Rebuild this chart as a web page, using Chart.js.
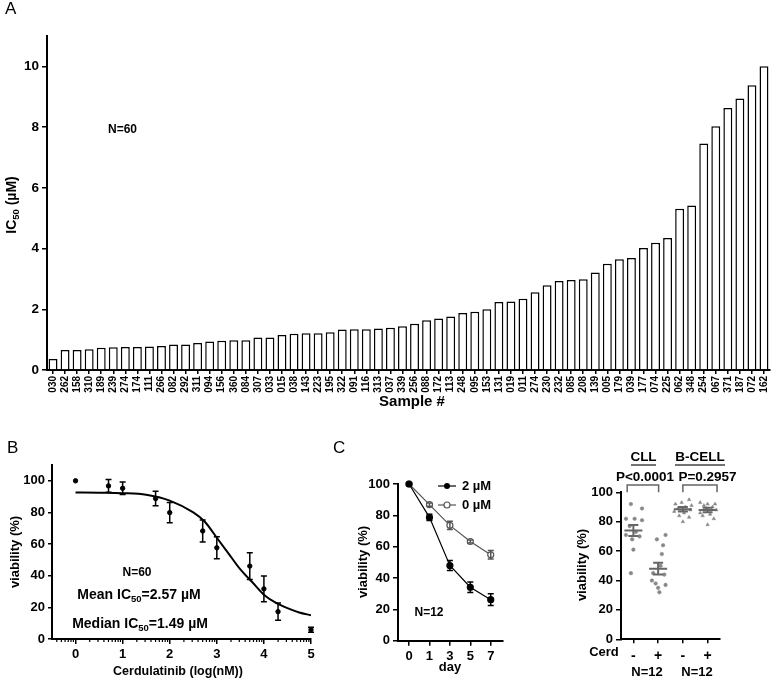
<!DOCTYPE html>
<html>
<head>
<meta charset="utf-8">
<script src="https://cdn.jsdelivr.net/npm/chart.js@4.4.1/dist/chart.umd.min.js"></script>
<style>
  body { margin: 0; background: #fff; width: 778px; height: 678px; position: relative; overflow: hidden; }
  canvas { position: absolute; }
</style>
</head>
<body>
<canvas id="cA" width="778" height="412" style="left:0px;top:0px"></canvas>
<canvas id="cB" width="330" height="238" style="left:0px;top:440px"></canvas>
<canvas id="cC1" width="210" height="238" style="left:330px;top:440px"></canvas>
<canvas id="cC2" width="238" height="238" style="left:540px;top:440px"></canvas>
<script>
// Panel A - IC50 per sample
const sampleIds = ['030','262','158','310','189','239','274','174','111','266','082','292','311','094','156','360','084','307','033','015',
  '038','143','223','195','322','091','116','313','037','339','256','088','172','113','248','095','153','131','019','011',
  '274','230','232','085','208','139','005','179','039','177','074','225','062','348','254','067','371','187','072','162'];
const ic50 = [0.36,0.66,0.66,0.68,0.73,0.75,0.76,0.76,0.77,0.79,0.84,0.84,0.89,0.94,0.96,0.98,0.98,1.07,1.07,1.15,
  1.19,1.21,1.21,1.24,1.33,1.34,1.34,1.37,1.39,1.44,1.52,1.64,1.70,1.76,1.88,1.92,2.00,2.24,2.26,2.35,
  2.56,2.79,2.93,2.96,2.99,3.21,3.50,3.65,3.69,4.02,4.19,4.35,5.31,5.42,7.46,8.03,8.63,8.94,9.38,10.0];
const icTicks = [0, 2, 4, 6, 8, 10];

// Panel B - dose response
const doseLog = [0, 0.7, 1, 1.7, 2, 2.7, 3, 3.7, 4, 4.3, 5];
const doseViab = [100, 96.8, 95.3, 88.8, 79.9, 68.3, 57.7, 46.1, 31.7, 17.3, 5.9];
const doseErr = [0, 4, 4, 4.6, 6.4, 7, 7, 8.5, 8.2, 5.5, 1.6];
const fitLog = [0, 0.5, 1, 1.5, 2, 2.5, 2.75, 3, 3.25, 3.5, 3.75, 4, 4.25, 4.5, 4.75, 5];
const fitViab = [92.6, 92.5, 92.2, 91.2, 87.5, 80, 74, 64, 54, 44, 36, 28, 23, 19.5, 16.8, 15];

// Panel C - time course
const days = ['0', '1', '3', '5', '7'];
const viab2uM = [100, 78.7, 48.0, 34.1, 26.2];
const err2uM = [0, 2, 3.2, 3.4, 3.7];
const viab0uM = [100, 86.8, 73.6, 63.3, 54.8];
const err0uM = [0, 1, 2.7, 1, 2.7];

// Panel C - CLL vs B-cell
const cerdLabels = ['-', '+', '-', '+'];
const cllMinus = [92, 89, 82, 82, 81, 77, 73, 71, 70, 68, 61, 45];
const cllMinusX = [-0.1, 0.35, -0.3, 0.05, 0.35, -0.15, 0.1, -0.3, 0.25, -0.05, 0, -0.1];
const cllPlus = [71, 68, 64, 58, 50, 45, 44, 40, 38, 37, 35, 32];
const cllPlusX = [0.3, -0.05, 0.2, 0.15, 0.1, -0.2, 0.25, -0.25, -0.1, 0.3, 0, 0.05];
const bMinus = [95, 93, 92, 91, 90, 89, 88, 87, 86, 84, 83, 80];
const bMinusX = [0.25, -0.05, -0.3, 0.35, 0.1, -0.2, 0.3, -0.35, 0.05, -0.15, 0.25, 0];
const bPlus = [93, 92, 92, 91, 90, 89, 88, 86, 85, 84, 82, 78];
const bPlusX = [-0.3, 0, 0.3, -0.15, 0.2, -0.05, 0.35, -0.3, 0.1, -0.2, 0.25, 0];
const groupMean = [74, 48, 88.5, 88];
const groupSem = [3.7, 4, 1.5, 1.5];

const F = '"Liberation Sans", Arial, sans-serif';
Chart.defaults.font.family = F;
Chart.defaults.color = '#000';
function bold(n) { return 'bold ' + n + 'px ' + F; }

function txt(ctx, s, x, y, font, align, rot) {
  ctx.save();
  ctx.translate(x, y);
  if (rot) ctx.rotate(rot);
  ctx.font = font;
  ctx.fillStyle = '#000';
  ctx.textAlign = align || 'center';
  ctx.textBaseline = 'middle';
  ctx.fillText(s, 0, 0);
  ctx.restore();
}

// text with subscript parts: [[text, font, dy]]
function subText(ctx, parts, x, y, rot) {
  ctx.save();
  ctx.translate(x, y);
  if (rot) ctx.rotate(rot);
  let w = 0;
  parts.forEach(p => { ctx.font = p[1]; w += ctx.measureText(p[0]).width; });
  let cx = -w / 2;
  ctx.fillStyle = '#000';
  ctx.textAlign = 'left';
  ctx.textBaseline = 'middle';
  parts.forEach(p => { ctx.font = p[1]; ctx.fillText(p[0], cx, p[2] || 0); cx += ctx.measureText(p[0]).width; });
  ctx.restore();
}

function drawErr(chart, dsIndex, errs, color, cap) {
  const ctx = chart.ctx, xs = chart.scales.x, ys = chart.scales.y;
  const data = chart.data.datasets[dsIndex].data;
  ctx.save();
  ctx.strokeStyle = color;
  ctx.lineWidth = 1.5;
  data.forEach((p, i) => {
    const e = errs[i];
    if (!e) return;
    const px = xs.getPixelForValue(p.x);
    const top = ys.getPixelForValue(p.y + e), bot = ys.getPixelForValue(p.y - e);
    ctx.beginPath();
    ctx.moveTo(px, top); ctx.lineTo(px, bot);
    ctx.moveTo(px - cap, top); ctx.lineTo(px + cap, top);
    ctx.moveTo(px - cap, bot); ctx.lineTo(px + cap, bot);
    ctx.stroke();
  });
  ctx.restore();
}

function axisOpts(size, tickLen) {
  return {
    border: { color: '#000', width: 2 },
    grid: { drawOnChartArea: false, drawTicks: true, tickLength: tickLen, color: '#000', lineWidth: 1.5 },
    ticks: { color: '#000', font: { size: size, weight: 'bold' }, padding: 3 }
  };
}

const base = {
  responsive: false,
  animation: false,
  events: [],
  plugins: { legend: { display: false }, tooltip: { enabled: false } }
};

// ---------- Panel A ----------
const ax = axisOpts(10, 4);
const ay = axisOpts(13.5, 5);
new Chart(document.getElementById('cA'), {
  type: 'bar',
  data: {
    labels: sampleIds,
    datasets: [{ data: ic50, backgroundColor: '#fff', borderColor: '#000', borderWidth: 1.5, barPercentage: 0.74, categoryPercentage: 1 }]
  },
  options: {
    ...base,
    layout: { padding: { left: 0, top: 36, right: 2, bottom: 0 } },
    scales: {
      x: {
        ...ax,
        grid: { ...ax.grid, offset: false },
        ticks: { ...ax.ticks, autoSkip: false, minRotation: 90, maxRotation: 90, padding: 2 },
        afterFit: s => { s.height = 42; }
      },
      y: {
        ...ay,
        min: 0, max: 11,
        afterBuildTicks: s => { s.ticks = icTicks.map(v => ({ value: v })); },
        afterFit: s => { s.width = 47; }
      }
    }
  },
  plugins: [{
    id: 'textA',
    afterDraw(chart) {
      const ctx = chart.ctx;
      txt(ctx, 'A', 5, 9, '17px ' + F, 'left');
      txt(ctx, 'N=60', 108, 130, bold(12), 'left');
      subText(ctx, [['IC', bold(14)], ['50', bold(9.5), 4], [' (\u00b5M)', bold(14)]], 12, 205, -Math.PI / 2);
      txt(ctx, 'Sample #', 412, 402, bold(15));
    }
  }]
});

// ---------- Panel B ----------
const bx = axisOpts(13, 5);
const by = axisOpts(13, 4);
new Chart(document.getElementById('cB'), {
  type: 'scatter',
  data: {
    datasets: [
      {
        data: fitLog.map((x, i) => ({ x: x, y: fitViab[i] })),
        showLine: true, borderColor: '#000', borderWidth: 2, pointRadius: 0,
        cubicInterpolationMode: 'monotone'
      },
      {
        data: doseLog.map((x, i) => ({ x: x, y: doseViab[i] })),
        pointRadius: 2.2, backgroundColor: '#000', borderColor: '#000', clip: false
      }
    ]
  },
  options: {
    ...base,
    layout: { padding: { left: 0, top: 25, right: 19, bottom: 0 } },
    scales: {
      x: {
        ...bx, type: 'linear', min: -0.5, max: 5,
        afterBuildTicks: s => { s.ticks = [0, 1, 2, 3, 4, 5].map(v => ({ value: v })); },
        afterFit: s => { s.height = 39; }
      },
      y: {
        ...by, min: 0, max: 110,
        afterBuildTicks: s => { s.ticks = [0, 20, 40, 60, 80, 100].map(v => ({ value: v })); },
        afterFit: s => { s.width = 52; }
      }
    }
  },
  plugins: [{
    id: 'textB',
    afterDatasetsDraw(chart) {
      drawErr(chart, 1, doseErr, '#000', 3);
    },
    afterDraw(chart) {
      const ctx = chart.ctx, xs = chart.scales.x, y0 = chart.chartArea.bottom;
      // log minor ticks
      ctx.save();
      ctx.strokeStyle = '#000';
      ctx.lineWidth = 1.2;
      for (let k = -1; k < 5; k++) {
        for (let m = 2; m <= 9; m++) {
          const v = k + Math.log10(m);
          if (v < -0.5 || v > 5) continue;
          const px = xs.getPixelForValue(v);
          ctx.beginPath(); ctx.moveTo(px, y0); ctx.lineTo(px, y0 + 3); ctx.stroke();
        }
      }
      ctx.restore();
      txt(ctx, 'B', 7, 8, '17px ' + F, 'left');
      txt(ctx, 'viability (%)', 15, 112, bold(13), 'center', -Math.PI / 2);
      txt(ctx, 'Cerdulatinib (log(nM))', 178, 232, bold(12.5));
      txt(ctx, 'N=60', 137, 133, bold(12));
      subText(ctx, [['Mean IC', bold(14)], ['50', bold(9.5), 4], ['=2.57 \u00b5M', bold(14)]], 139, 155);
      subText(ctx, [['Median IC', bold(14)], ['50', bold(9.5), 4], ['=1.49 \u00b5M', bold(14)]], 140, 184);
    }
  }]
});

// ---------- Panel C (time course) ----------
const cx1 = axisOpts(13, 5);
const cy1 = axisOpts(13, 5);
new Chart(document.getElementById('cC1'), {
  type: 'scatter',
  data: {
    datasets: [
      {
        data: viab2uM.map((v, i) => ({ x: i, y: v })),
        showLine: true, borderColor: '#000', borderWidth: 1.2,
        pointRadius: 3, pointBackgroundColor: '#000', pointBorderColor: '#000', clip: false
      },
      {
        data: viab0uM.map((v, i) => ({ x: i, y: v })),
        showLine: true, borderColor: '#555', borderWidth: 1.2,
        pointRadius: 3, pointBackgroundColor: '#fff', pointBorderColor: '#555', pointBorderWidth: 1.2, clip: false
      }
    ]
  },
  options: {
    ...base,
    layout: { padding: { left: 0, top: 44, right: 37, bottom: 0 } },
    scales: {
      x: {
        ...cx1, type: 'linear', min: -0.54, max: 4.6,
        afterBuildTicks: s => { s.ticks = days.map((d, i) => ({ value: i })); },
        ticks: { ...cx1.ticks, callback: v => days[v] },
        afterFit: s => { s.height = 37.3; }
      },
      y: {
        ...cy1, min: 0, max: 100,
        afterBuildTicks: s => { s.ticks = [0, 20, 40, 60, 80, 100].map(v => ({ value: v })); },
        afterFit: s => { s.width = 68; }
      }
    }
  },
  plugins: [{
    id: 'textC1',
    afterDatasetsDraw(chart) {
      drawErr(chart, 0, err2uM, '#000', 3);
      drawErr(chart, 1, err0uM, '#555', 3);
    },
    afterDraw(chart) {
      const ctx = chart.ctx;
      txt(ctx, 'C', 3, 8, '17px ' + F, 'left');
      txt(ctx, 'viability (%)', 33, 122, bold(13), 'center', -Math.PI / 2);
      txt(ctx, 'N=12', 99, 173, bold(12));
      txt(ctx, 'day', 120, 227, bold(13));
      // legend
      ctx.save();
      ctx.lineWidth = 1.2;
      ctx.strokeStyle = '#000';
      ctx.beginPath(); ctx.moveTo(108, 46); ctx.lineTo(126, 46); ctx.stroke();
      ctx.fillStyle = '#000';
      ctx.beginPath(); ctx.arc(117, 46, 3, 0, Math.PI * 2); ctx.fill();
      ctx.strokeStyle = '#555';
      ctx.beginPath(); ctx.moveTo(108, 65); ctx.lineTo(126, 65); ctx.stroke();
      ctx.fillStyle = '#fff';
      ctx.beginPath(); ctx.arc(117, 65, 3, 0, Math.PI * 2); ctx.fill(); ctx.stroke();
      ctx.restore();
      txt(ctx, '2 \u00b5M', 132, 46, bold(13), 'left');
      txt(ctx, '0 \u00b5M', 132, 65, bold(13), 'left');
    }
  }]
});

// ---------- Panel C (CLL vs B-cell) ----------
const cx2 = axisOpts(14, 4);
const cy2 = axisOpts(13, 5);
const groupVals = [cllMinus, cllPlus, bMinus, bPlus];
const groupX = [cllMinusX, cllPlusX, bMinusX, bPlusX];
new Chart(document.getElementById('cC2'), {
  type: 'scatter',
  data: {
    datasets: groupVals.map((vals, g) => ({
      data: vals.map((v, i) => ({ x: g + groupX[g][i], y: v })),
      pointStyle: g < 2 ? 'circle' : 'triangle',
      pointRadius: g < 2 ? 1.8 : 2,
      pointBackgroundColor: '#888', pointBorderColor: '#888', pointBorderWidth: 0.5
    }))
  },
  options: {
    ...base,
    layout: { padding: { left: 0, top: 52.3, right: 58, bottom: 0 } },
    scales: {
      x: {
        ...cx2, type: 'linear', min: -0.5, max: 3.5,
        afterBuildTicks: s => { s.ticks = cerdLabels.map((d, i) => ({ value: i })); },
        ticks: { ...cx2.ticks, callback: v => cerdLabels[v], padding: 4 },
        afterFit: s => { s.height = 38.7; }
      },
      y: {
        ...cy2, min: 0, max: 100,
        afterBuildTicks: s => { s.ticks = [0, 20, 40, 60, 80, 100].map(v => ({ value: v })); },
        afterFit: s => { s.width = 81; }
      }
    }
  },
  plugins: [{
    id: 'textC2',
    afterDatasetsDraw(chart) {
      const ctx = chart.ctx, xs = chart.scales.x, ys = chart.scales.y;
      ctx.save();
      ctx.strokeStyle = '#666';
      ctx.lineWidth = 2;
      groupMean.forEach((m, g) => {
        const px = xs.getPixelForValue(g);
        const pm = ys.getPixelForValue(m);
        const pt = ys.getPixelForValue(m + groupSem[g]), pb = ys.getPixelForValue(m - groupSem[g]);
        ctx.beginPath();
        ctx.moveTo(px - 9, pm); ctx.lineTo(px + 9, pm);
        ctx.moveTo(px, pt); ctx.lineTo(px, pb);
        ctx.moveTo(px - 5, pt); ctx.lineTo(px + 5, pt);
        ctx.moveTo(px - 5, pb); ctx.lineTo(px + 5, pb);
        ctx.stroke();
      });
      // brackets
      ctx.lineWidth = 1.5;
      [[-0.25, 1.02], [0, 1.38]].forEach((b, i) => {
        const x0 = xs.getPixelForValue(b[0] + i * 2), x1 = xs.getPixelForValue(b[1] + i * 2);
        const yt = ys.getPixelForValue(105), yb = ys.getPixelForValue(100);
        ctx.beginPath();
        ctx.moveTo(x0, yb); ctx.lineTo(x0, yt); ctx.lineTo(x1, yt); ctx.lineTo(x1, yb);
        ctx.stroke();
      });
      ctx.restore();
    },
    afterDraw(chart) {
      const ctx = chart.ctx;
      txt(ctx, 'CLL', 103.5, 17, bold(13.5));
      txt(ctx, 'B-CELL', 160, 17, bold(13.5));
      ctx.save();
      ctx.strokeStyle = '#444';
      ctx.lineWidth = 1.5;
      ctx.beginPath();
      ctx.moveTo(91, 25); ctx.lineTo(116, 25);
      ctx.moveTo(135, 25); ctx.lineTo(185, 25);
      ctx.stroke();
      ctx.restore();
      txt(ctx, 'P<0.0001', 105, 37, bold(13.5));
      txt(ctx, 'P=0.2957', 167.5, 37, bold(13.5));
      txt(ctx, 'viability (%)', 42, 125, bold(13), 'center', -Math.PI / 2);
      txt(ctx, 'Cerd', 64, 212, bold(13));
      txt(ctx, 'N=12', 107, 232, bold(13));
      txt(ctx, 'N=12', 157, 232, bold(13));
    }
  }]
});
</script>
</body>
</html>
